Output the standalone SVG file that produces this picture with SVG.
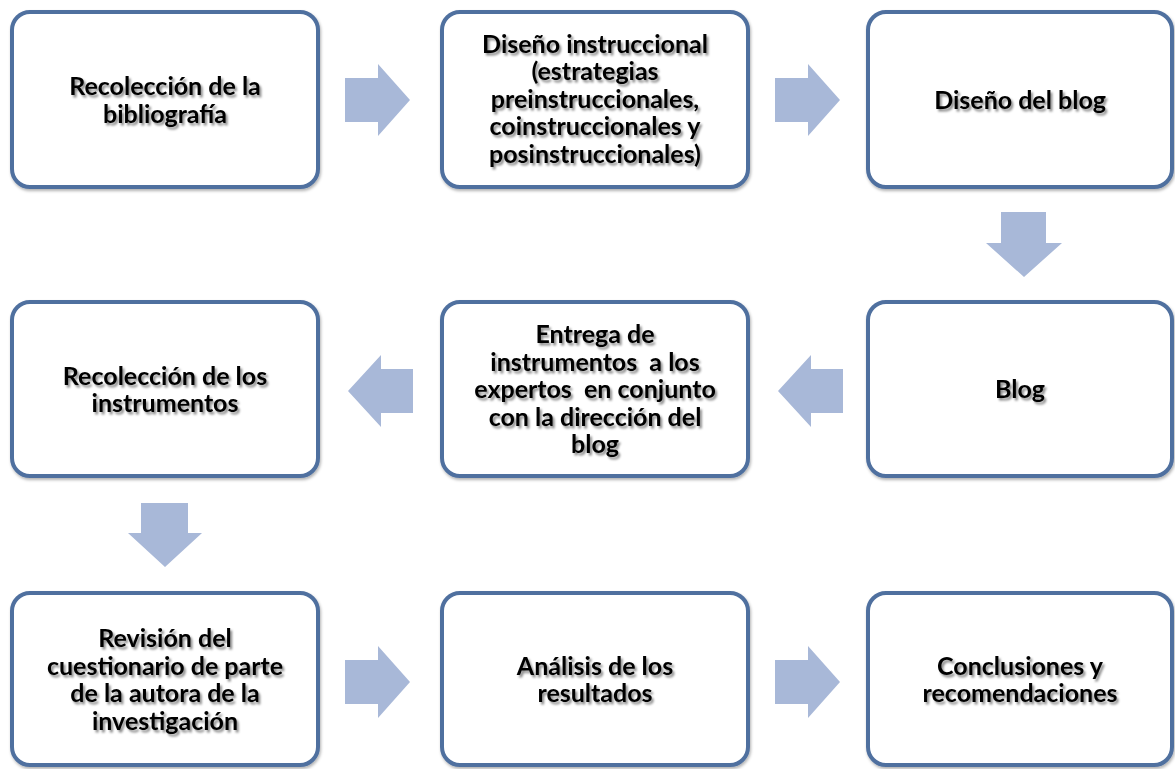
<svg xmlns="http://www.w3.org/2000/svg" width="1175" height="769" viewBox="0 0 1175 769">
<defs>
<filter id="ts" x="-10%" y="-30%" width="120%" height="160%">
<feDropShadow dx="2" dy="2.5" stdDeviation="1.3" flood-color="#000" flood-opacity="0.45"/>
</filter>
<filter id="bs" x="-5%" y="-5%" width="110%" height="115%">
<feDropShadow dx="1" dy="2" stdDeviation="1.5" flood-color="#000" flood-opacity="0.3"/>
</filter>
</defs>
<style>
.box{fill:#fff;stroke:#50709f;stroke-width:4;}
.arr{fill:#a8b8d8;}
text{font-family:Lato,"Open Sans","Liberation Sans",sans-serif;font-weight:bold;font-size:25px;fill:#000;text-anchor:middle;}
</style>
<rect width="1175" height="769" fill="#fff"/>
<g id="connectors">
<path class="arr" d="M345,78 H378 V64 L410,100 L378,136 V122 H345 Z"/>
<path class="arr" d="M775,78 H808 V64 L840,100 L808,136 V122 H775 Z"/>
<path class="arr" d="M1001,212 H1046 V243 H1062 L1024,277 L986,243 H1001 Z"/>
<path class="arr" d="M843,369 H811 V355 L778,391 L811,427 V413 H843 Z"/>
<path class="arr" d="M413,369 H381 V355 L348,391 L381,427 V413 H413 Z"/>
<path class="arr" d="M141,503 H188 V533 H202 L165,567 L128,533 H141 Z"/>
<path class="arr" d="M345,660 H378 V646 L410,682 L378,718 V704 H345 Z"/>
<path class="arr" d="M775,660 H808 V646 L840,682 L808,718 V704 H775 Z"/>
</g>
<g id="n1">
<rect class="box" filter="url(#bs)" x="12" y="12" width="306" height="175" rx="18"/>
<text filter="url(#ts)"><tspan x="165" y="95">Recolección de la</tspan><tspan x="165" y="122.5">bibliografía</tspan></text>
</g>
<g id="n2">
<rect class="box" filter="url(#bs)" x="442" y="12" width="306" height="175" rx="18"/>
<text filter="url(#ts)"><tspan x="595" y="52.5">Diseño instruccional</tspan><tspan x="595" y="80">(estrategias</tspan><tspan x="595" y="107.5">preinstruccionales,</tspan><tspan x="595" y="135">coinstruccionales y</tspan><tspan x="595" y="162.5">posinstruccionales)</tspan></text>
</g>
<g id="n3">
<rect class="box" filter="url(#bs)" x="868" y="12" width="304" height="175" rx="18"/>
<text filter="url(#ts)" x="1020" y="108.5">Diseño del blog</text>
</g>
<g id="n4">
<rect class="box" filter="url(#bs)" x="868" y="302" width="304" height="174" rx="18"/>
<text filter="url(#ts)" x="1020" y="398">Blog</text>
</g>
<g id="n5">
<rect class="box" filter="url(#bs)" x="442" y="302" width="306" height="174" rx="18"/>
<text filter="url(#ts)"><tspan x="595" y="343">Entrega de</tspan><tspan x="595" y="370.5">instrumentos&#160; a los</tspan><tspan x="595" y="398">expertos&#160; en conjunto</tspan><tspan x="595" y="425.5">con la dirección del</tspan><tspan x="595" y="453">blog</tspan></text>
</g>
<g id="n6">
<rect class="box" filter="url(#bs)" x="12" y="302" width="306" height="174" rx="18"/>
<text filter="url(#ts)"><tspan x="165" y="384.5">Recolección de los</tspan><tspan x="165" y="412">instrumentos</tspan></text>
</g>
<g id="n7">
<rect class="box" filter="url(#bs)" x="12" y="593" width="306" height="172" rx="18"/>
<text filter="url(#ts)"><tspan x="165" y="647">Revisión del</tspan><tspan x="165" y="674.5">cuestionario de parte</tspan><tspan x="165" y="702">de la autora de la</tspan><tspan x="165" y="729.5">investigación</tspan></text>
</g>
<g id="n8">
<rect class="box" filter="url(#bs)" x="442" y="593" width="306" height="172" rx="18"/>
<text filter="url(#ts)"><tspan x="595" y="674.5">Análisis de los</tspan><tspan x="595" y="702">resultados</tspan></text>
</g>
<g id="n9">
<rect class="box" filter="url(#bs)" x="868" y="593" width="304" height="172" rx="18"/>
<text filter="url(#ts)"><tspan x="1020" y="674.5">Conclusiones y</tspan><tspan x="1020" y="702">recomendaciones</tspan></text>
</g>
</svg>
